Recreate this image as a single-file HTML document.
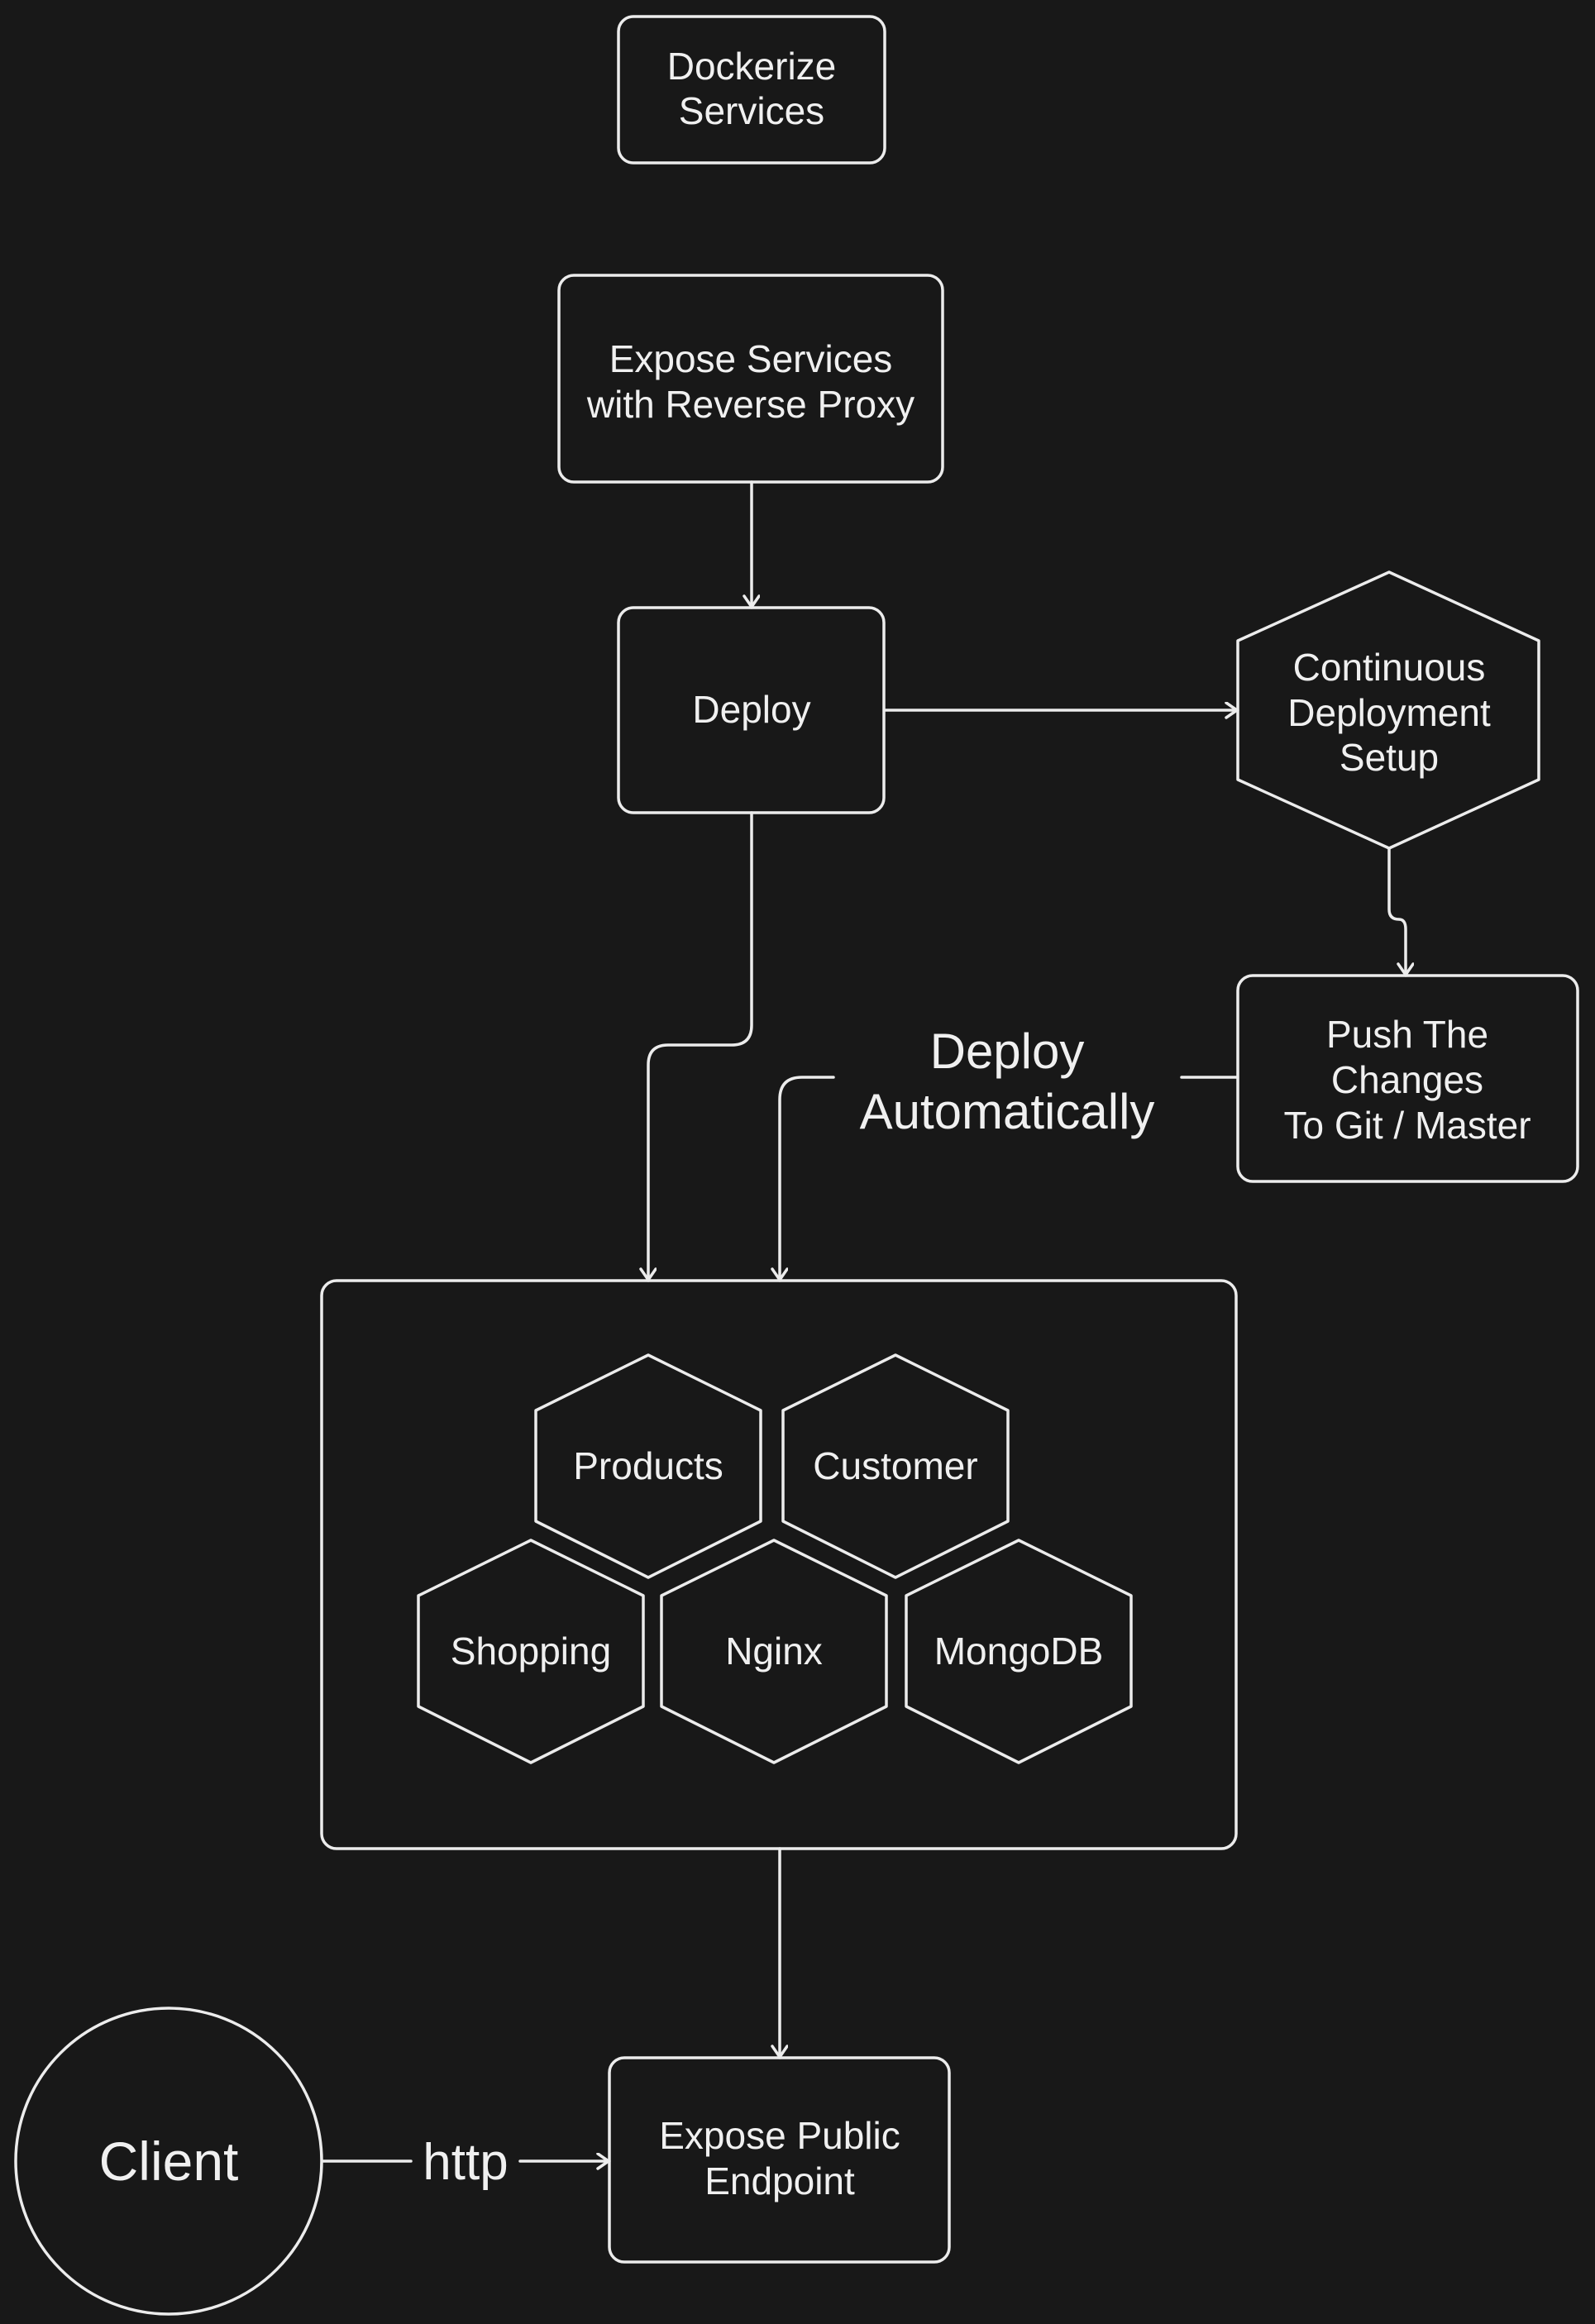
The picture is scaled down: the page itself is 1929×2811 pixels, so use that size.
<!DOCTYPE html>
<html><head><meta charset="utf-8"><style>
html,body{margin:0;padding:0;background:#181818;}
svg{display:block}
text{font-family:"Liberation Sans",sans-serif;fill:#f0f0f0;text-anchor:middle;}
.s{fill:none;stroke:#ececec;stroke-width:3.5;stroke-linejoin:round;stroke-linecap:round}
.n{font-size:46px}
</style></head><body>
<svg width="1929" height="2811" viewBox="0 0 1929 2811" xmlns="http://www.w3.org/2000/svg">
<defs><marker id="a" markerWidth="30" markerHeight="30" refX="14" refY="10" orient="auto" markerUnits="userSpaceOnUse"><path d="M2,1 L15,10 L2,19" fill="none" stroke="#ececec" stroke-width="3.5" stroke-linecap="round"/></marker></defs>

<rect class="s" x="748" y="20" width="322" height="177" rx="18"/>
<text class="n" x="909" y="96">Dockerize</text><text class="n" x="909" y="150">Services</text>

<rect class="s" x="676" y="333" width="464" height="250" rx="18"/>
<text class="n" x="908" y="450">Expose Services</text><text class="n" x="908" y="505">with Reverse Proxy</text>

<rect class="s" x="748" y="735" width="321" height="248" rx="18"/>
<text class="n" x="909" y="874">Deploy</text>

<polygon class="s" points="1680,692 1861,775 1861,943 1680,1026 1497,943 1497,775"/>
<text class="n" x="1680" y="823">Continuous</text><text class="n" x="1680" y="878">Deployment</text><text class="n" x="1680" y="932">Setup</text>

<rect class="s" x="1497" y="1180" width="411" height="249" rx="18"/>
<text class="n" x="1702" y="1267">Push The</text><text class="n" x="1702" y="1322">Changes</text><text class="n" x="1702" y="1377">To Git / Master</text>

<rect class="s" x="389" y="1549" width="1106" height="687" rx="18"/>

<g>
<polygon class="s" points="784,1639 920,1706 920,1840 784,1908 648,1840 648,1706"/>
<text class="n" x="784" y="1789">Products</text>
<polygon class="s" points="1083,1639 1219,1706 1219,1840 1083,1908 947,1840 947,1706"/>
<text class="n" x="1083" y="1789">Customer</text>
<polygon class="s" points="642,1863 778,1930 778,2064 642,2132 506,2064 506,1930"/>
<text class="n" x="642" y="2013">Shopping</text>
<polygon class="s" points="936,1863 1072,1930 1072,2064 936,2132 800,2064 800,1930"/>
<text class="n" x="936" y="2013">Nginx</text>
<polygon class="s" points="1232,1863 1368,1930 1368,2064 1232,2132 1096,2064 1096,1930"/>
<text class="n" x="1232" y="2013">MongoDB</text>
</g>

<rect class="s" x="737" y="2489" width="411" height="247" rx="18"/>
<text class="n" x="943" y="2599">Expose Public</text><text class="n" x="943" y="2654">Endpoint</text>

<circle class="s" cx="204" cy="2614" r="185"/>
<text x="204" y="2637" style="font-size:66px">Client</text>

<!-- connectors -->
<path class="s" d="M909,583 L909,733" marker-end="url(#a)"/>
<path class="s" d="M1070,859 L1495,859" marker-end="url(#a)"/>
<path class="s" d="M1680,1026 L1680,1100 Q1680,1112 1692,1112 Q1700,1112 1700,1124 L1700,1178" marker-end="url(#a)"/>
<path class="s" d="M909,983 L909,1240 Q909,1264 885,1264 L808,1264 Q784,1264 784,1288 L784,1547" marker-end="url(#a)"/>
<path class="s" d="M1495,1303 L1429,1303"/>
<path class="s" d="M1008,1303 L970,1303 Q943,1303 943,1330 L943,1547" marker-end="url(#a)"/>
<text x="1218" y="1292" style="font-size:60px">Deploy</text>
<text x="1218" y="1365" style="font-size:60px">Automatically</text>
<path class="s" d="M943,2236 L943,2487" marker-end="url(#a)"/>
<path class="s" d="M391,2614 L497,2614"/>
<path class="s" d="M629,2614 L735,2614" marker-end="url(#a)"/>
<text x="563" y="2636" style="font-size:62px">http</text>
</svg>
</body></html>
